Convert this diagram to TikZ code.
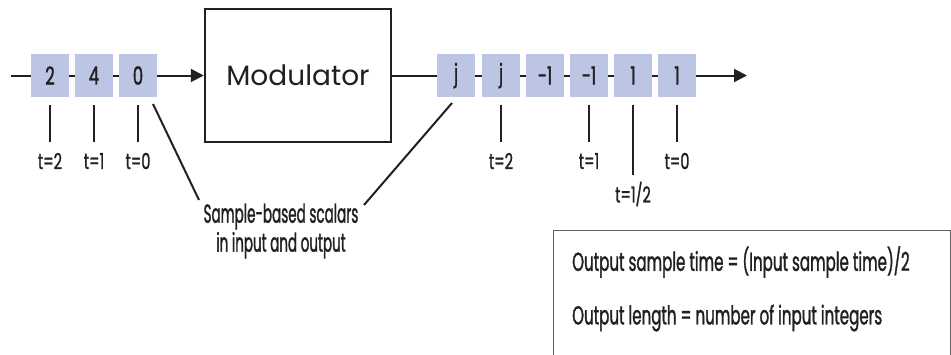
\documentclass[tikz,border=0pt]{standalone}
\usepackage{fontspec}
\setmainfont{Poppins}
\newfontfamily\condfont[FakeStretch=0.66,FakeBold=1.2]{Poppins}
\newfontfamily\slimfont[FakeStretch=0.52,FakeBold=1.2]{Poppins}
\newfontfamily\boxfont[FakeStretch=0.58,FakeBold=1.2]{Poppins}
\usetikzlibrary{arrows.meta,positioning}
\definecolor{samplefill}{RGB}{189,197,228}
\definecolor{inkdark}{RGB}{35,31,32}
\definecolor{framegray}{RGB}{95,95,95}

\begin{document}
\begin{tikzpicture}[x=1pt,y=-1pt,
		sample/.style={fill=samplefill, minimum width=38pt, minimum height=43pt,
			inner sep=0pt, text=inkdark, font=\condfont\fontsize{25}{28}\selectfont},
		wire/.style={line width=2pt, inkdark},
		arrow/.style={wire, -{Triangle[length=13pt,width=13pt]}},
		tlabel/.style={inner sep=0pt, text=inkdark, font=\condfont\fontsize{22}{26}\selectfont},
		infotext/.style={anchor=west, inner sep=0pt, text=inkdark, font=\boxfont\fontsize{26}{30}\selectfont}
	]
	\useasboundingbox (0,0) rectangle (951,354);
	% input samples
	\coordinate (start) at (11,75.5);
	\node[sample] (in2) at (50,75.5) {2};
	\node[sample] (in4) at (94,75.5) {4};
	\node[sample] (in0) at (138,75.5) {0};
	\node[draw=inkdark, line width=2.5pt, minimum width=186pt, minimum height=133pt,
		font=\fontsize{28}{34}\selectfont, text=inkdark] (mod) at (298,75.5) {Modulator};
	% output samples
	\node[sample] (outa) at (456,75.5) {j};
	\node[sample] (outb) at (501,75.5) {j};
	\node[sample] (outc) at (545,75.5) {-1};
	\node[sample] (outd) at (589,75.5) {-1};
	\node[sample] (oute) at (633,75.5) {1};
	\node[sample] (outf) at (677,75.5) {1};
	\coordinate (finish) at (747,75.5);
	\draw[wire] (start) -- (in2.west);
	\draw[wire] (in2.east) -- (in4.west);
	\draw[wire] (in4.east) -- (in0.west);
	\draw[arrow] (in0.east) -- (mod.west);
	\draw[wire] (mod.east) -- (outa.west);
	\draw[wire] (outa.east) -- (outb.west);
	\draw[wire] (outb.east) -- (outc.west);
	\draw[wire] (outc.east) -- (outd.west);
	\draw[wire] (outd.east) -- (oute.west);
	\draw[wire] (oute.east) -- (outf.west);
	\draw[arrow] (outf.east) -- (finish);
	% sample times
	\node[tlabel] (tin2) at (50,161) {t=2};
	\node[tlabel] (tin1) at (94,161) {t=1};
	\node[tlabel] (tin0) at (138,161) {t=0};
	\node[tlabel] (tout2) at (501,161) {t=2};
	\node[tlabel] (tout1) at (589,161) {t=1};
	\node[tlabel] (touth) at (633,194) {t=1/2};
	\node[tlabel] (tout0) at (677,161) {t=0};
	\draw[wire] ([yshift=-8pt]in2.south) -- ++(0,37);
	\draw[wire] ([yshift=-8pt]in4.south) -- ++(0,37);
	\draw[wire] ([yshift=-8pt]in0.south) -- ++(0,37);
	\draw[wire] ([yshift=-8pt]outb.south) -- ++(0,37);
	\draw[wire] ([yshift=-8pt]outd.south) -- ++(0,37);
	\draw[wire] ([yshift=-8pt]oute.south) -- ++(0,70);
	\draw[wire] ([yshift=-8pt]outf.south) -- ++(0,37);
	% callout
	\node[tlabel, align=center, font=\slimfont\fontsize{26}{29}\selectfont] (note) at (281,231)
		{Sample-based scalars\\in input and output};
	\coordinate (notel) at (199,200);
	\coordinate (noter) at (364,205);
	\draw[wire] (153,104) -- (notel);
	\draw[wire] (452,103) -- (noter);
	% info box
	\node[draw=framegray, line width=1pt, minimum width=397pt, minimum height=130pt,
		anchor=north west, inner sep=0pt] (info) at (553,230) {};
	\node[infotext] (rate) at (572,262) {Output sample time = (Input sample time)/2};
	\node[infotext] (length) at (572,318) {Output length = number of input integers};
\end{tikzpicture}
\end{document}
